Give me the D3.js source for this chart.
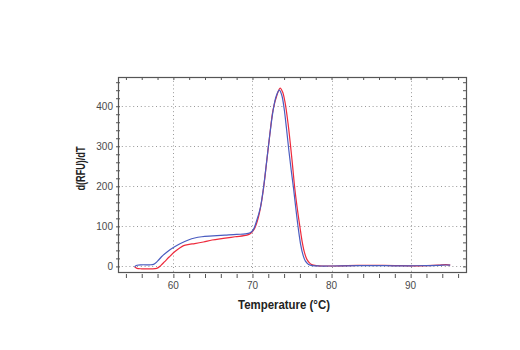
<!DOCTYPE html>
<html>
<head>
<meta charset="utf-8">
<script src="https://cdn.jsdelivr.net/npm/d3@7"></script>
<style>
  html, body { margin: 0; padding: 0; background: #fff; }
  svg { display: block; }
  .tick-label { font-family: "Liberation Sans", Arial, sans-serif; font-size: 10px; fill: #4a4a4a; }
  .axis-title { font-family: "Liberation Sans", Arial, sans-serif; font-size: 12.5px; font-weight: bold; fill: #222; }
</style>
</head>
<body>
<svg id="chart" width="520" height="350"></svg>
<script>
// Melt curve: first derivative of fluorescence vs temperature, two samples

const blueTemps = [55.1, 55.4, 56.0, 57.0, 57.5, 58.0, 58.5, 59.2, 60.0, 60.9, 61.9, 62.7, 63.6, 65.0, 66.5, 68.0, 69.1, 69.7,
  70.1, 70.5, 71.0, 71.4, 71.8, 72.2, 72.6, 73.0, 73.4, 73.7, 74.0, 74.3, 74.6, 74.9, 75.2, 75.5, 75.8, 76.1, 76.4, 76.7,
  77.1, 77.6, 78.5, 80, 82, 84, 86, 88, 90, 92, 93.5, 94.5, 95.0];
const blueValues = [-1, 3, 4, 4, 5, 13, 24, 36, 47, 57, 66, 71, 74, 76, 78, 80, 81, 84,
  91, 112, 147, 197, 263, 330, 388, 425, 440, 428, 395, 345, 290, 240, 194, 142, 94, 54, 28, 13,
  5, 2, 1, 1, 1.5, 2, 2, 1.5, 1.5, 2, 2.5, 3.5, 3];

const redTemps = [55.1, 55.4, 56.0, 57.0, 57.9, 58.4, 58.9, 59.5, 60.2, 60.8, 61.3, 62.0, 62.7, 63.8, 64.9, 66.3, 67.8, 69.3, 69.8,
  70.2, 70.6, 71.0, 71.4, 71.8, 72.2, 72.6, 73.1, 73.5, 73.8, 74.1, 74.5, 75.0, 75.35, 75.7, 76.0, 76.3, 76.6, 76.9,
  77.3, 77.7, 78.3, 80, 82, 84, 86, 88, 90, 92, 93.5, 94.5, 95.0];
const redValues = [-1, -5, -6, -6, -5, 2, 12, 24, 37, 46, 52, 55, 57, 61, 66, 70, 74, 78, 83,
  92, 112, 145, 195, 262, 330, 390, 428, 445, 436, 412, 357, 266, 195, 140, 99, 60, 33, 17,
  7, 3, 1.5, 1, 2, 2.5, 2.5, 2, 1.5, 2, 3, 4.5, 3];

const xMajorTicks = [60, 70, 80, 90];
const yMajorTicks = [0, 100, 200, 300, 400];
const xTitle = "Temperature (°C)";
const yTitle = "d(RFU)/dT";

const svg = d3.select("#chart");
const plotLeft = 118, plotRight = 466, plotTop = 77, plotBottom = 272;

const x = d3.scaleLinear().domain([53, 97]).range([plotLeft, plotRight]);
const y = d3.scaleLinear().domain([-14, 473]).range([plotBottom, plotTop]);

const xMinor = d3.range(54, 97, 2);
const yMinor = d3.range(0, 473, 20);

// dotted grid at major ticks
const grid = svg.append("g").attr("stroke", "#999").attr("stroke-width", 1)
  .attr("stroke-dasharray", "1,2.8");
grid.selectAll(".gx").data(xMajorTicks).enter().append("line")
  .attr("x1", d => Math.round(x(d)) + 0.5).attr("x2", d => Math.round(x(d)) + 0.5)
  .attr("y1", plotTop).attr("y2", plotBottom);
grid.selectAll(".gy").data(yMajorTicks).enter().append("line")
  .attr("x1", plotLeft).attr("x2", plotRight)
  .attr("y1", d => Math.round(y(d)) + 0.5).attr("y2", d => Math.round(y(d)) + 0.5);

// tick marks on all four sides
const axisColor = "#555";
const bottomAxis = svg.append("g").attr("transform", `translate(0,${plotBottom + 2})`)
  .call(d3.axisBottom(x).tickValues(xMinor).tickSize(4).tickSizeOuter(0).tickFormat(""));
const topAxis = svg.append("g").attr("transform", `translate(0,${plotTop})`)
  .call(d3.axisBottom(x).tickValues(xMinor).tickSize(3).tickSizeOuter(0).tickFormat(""));
const leftAxis = svg.append("g").attr("transform", `translate(${plotLeft + 2},0)`)
  .call(d3.axisLeft(y).tickValues(yMinor).tickSize(4).tickSizeOuter(0).tickFormat(""));
const rightAxis = svg.append("g").attr("transform", `translate(${plotRight},0)`)
  .call(d3.axisLeft(y).tickValues(yMinor).tickSize(3).tickSizeOuter(0).tickFormat(""));
[bottomAxis, topAxis, leftAxis, rightAxis].forEach(g => {
  g.select(".domain").remove();
  g.selectAll("line").attr("stroke", axisColor);
});

// frame
svg.append("rect").attr("x", plotLeft + 0.5).attr("y", plotTop + 0.5)
  .attr("width", plotRight - plotLeft).attr("height", plotBottom - plotTop)
  .attr("fill", "none").attr("stroke", axisColor).attr("stroke-width", 1.2);

// tick labels
svg.selectAll(".xl").data(xMajorTicks).enter().append("text")
  .attr("class", "tick-label").attr("x", d => x(d)).attr("y", 289)
  .attr("text-anchor", "middle").text(d => d);
svg.selectAll(".yl").data(yMajorTicks).enter().append("text")
  .attr("class", "tick-label").attr("x", 113).attr("y", d => y(d) + 3.6)
  .attr("text-anchor", "end").text(d => d);

// axis titles (condensed to fit)
svg.append("text").attr("class", "axis-title")
  .attr("x", 284).attr("y", 309).attr("text-anchor", "middle")
  .attr("textLength", 92).attr("lengthAdjust", "spacingAndGlyphs").text(xTitle);
svg.append("text").attr("class", "axis-title")
  .attr("transform", "translate(85,168.5) rotate(-90)")
  .attr("text-anchor", "middle")
  .attr("textLength", 44).attr("lengthAdjust", "spacingAndGlyphs").text(yTitle);

// curves
const line = d3.line().x(d => x(d[0])).y(d => y(d[1])).curve(d3.curveCatmullRom.alpha(0.5));
const series = [
  { temps: redTemps, values: redValues, color: "#ee2a3c" },
  { temps: blueTemps, values: blueValues, color: "#4a5cc0" }
];
svg.selectAll(".curve").data(series).enter().append("path")
  .attr("fill", "none").attr("stroke", d => d.color).attr("stroke-width", 1.2)
  .attr("d", d => line(d.temps.map((t, i) => [t, d.values[i]])));
</script>
</body>
</html>
